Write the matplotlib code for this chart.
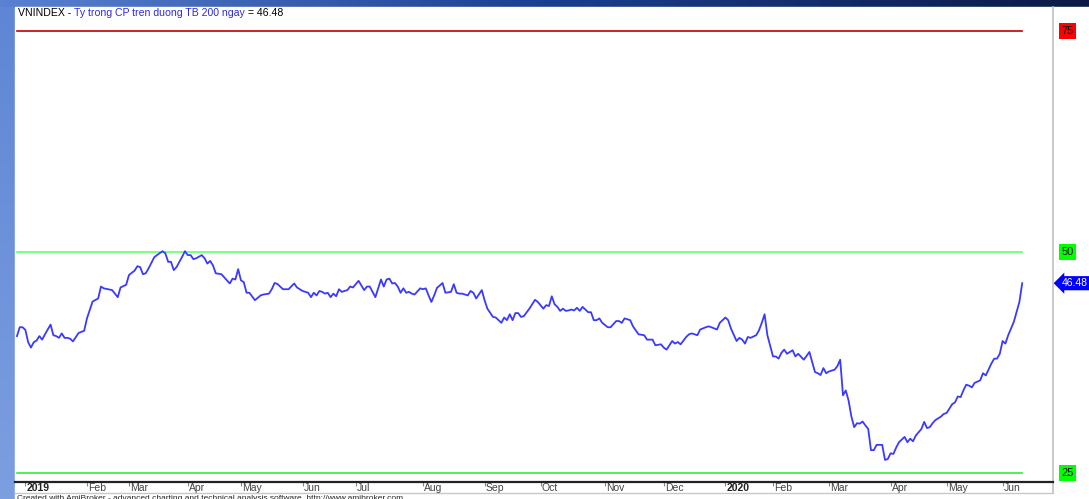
import numpy as np
import matplotlib
matplotlib.use('Agg')
import matplotlib.pyplot as plt
from matplotlib.patches import Rectangle

plt.rcParams['font.family'] = ['Liberation Sans', 'DejaVu Sans']

# trading-day index (0 = late Dec 2018) and % of stocks above MA200
day = [0, 1, 2, 3, 4, 5, 6, 7, 8, 9, 10, 12, 13, 14, 15, 16, 17, 18, 19, 20, 22, 24, 25, 27, 29,
       30, 31, 34, 36, 37, 39, 40, 42, 43, 44, 45, 46, 47, 49, 50, 52, 53, 54, 55, 56, 57, 58, 59,
       60, 61, 62, 63, 64, 66, 67, 68, 69, 70, 71, 73, 75, 76, 77, 78, 79, 80, 81, 82, 83, 85, 87,
       88, 90, 91, 92, 93, 95, 97, 99, 100, 102, 103, 104, 105, 106, 107, 108, 109, 110, 111, 112,
       113, 114, 115, 116, 118, 119, 120, 122, 124, 125, 126, 128, 129, 130, 131, 132, 133, 134,
       135, 136, 137, 138, 139, 140, 141, 142, 144, 145, 146, 147, 148, 149, 150, 152, 153, 155,
       156, 157, 158, 159, 161, 162, 163, 164, 166, 167, 168, 170, 171, 173, 174, 175, 176, 177,
       178, 179, 180, 181, 183, 185, 186, 188, 189, 190, 191, 192, 193, 194, 195, 196, 197, 198,
       199, 200, 201, 202, 204, 205, 206, 207, 208, 209, 211, 212, 214, 215, 216, 217, 219, 220,
       222, 224, 225, 227, 228, 230, 231, 232, 233, 234, 235, 236, 237, 239, 240, 241, 243, 244,
       246, 247, 248, 250, 251, 253, 254, 255, 257, 258, 259, 260, 261, 262, 264, 265, 266, 267,
       268, 270, 271, 272, 273, 274, 275, 277, 278, 279, 281, 283, 285, 286, 287, 288, 289, 290,
       292, 293, 294, 295, 296, 297, 298, 299, 300, 301, 302, 303, 304, 305, 306, 307, 309, 310,
       311, 312, 313, 314, 315, 317, 318, 319, 320, 321, 323, 324, 325, 326, 327, 328, 330, 331,
       332, 334, 335, 336, 337, 338, 339, 340, 341, 342, 344, 345, 346, 348, 349, 350, 351, 352,
       353, 354, 356, 358, 359]
ratio = [40.5, 41.5, 41.5, 41.2, 39.8, 39.2, 39.8, 40.0, 40.5, 40.1, 40.7, 41.8, 40.6, 40.5, 40.3,
         40.8, 40.3, 40.3, 40.2, 39.9, 40.85, 41.1, 42.5, 44.4, 44.75, 46.1, 45.9, 45.7, 44.9, 46.0,
         46.3, 47.4, 47.9, 48.4, 48.3, 47.5, 47.6, 48.15, 49.4, 49.66, 50.1, 49.85, 48.9, 48.9,
         47.96, 48.3, 48.9, 49.47, 50.1, 49.66, 49.66, 49.2, 49.3, 49.66, 49.3, 48.7, 49.0, 48.5,
         47.6, 47.5, 46.8, 46.45, 47.0, 46.9, 48.07, 46.8, 46.6, 45.4, 45.4, 44.56, 45.1, 45.2,
         45.3, 45.8, 46.5, 46.4, 45.8, 45.8, 46.45, 46.0, 45.6, 45.5, 45.4, 44.9, 45.4, 45.1, 45.6,
         45.5, 45.3, 45.4, 44.9, 45.3, 45.0, 45.8, 45.5, 45.7, 46.1, 46.0, 46.75, 45.7, 46.1, 46.1,
         44.9, 45.9, 46.9, 46.1, 46.9, 47.0, 46.45, 46.5, 46.1, 45.4, 45.9, 45.4, 45.5, 45.3, 45.2,
         45.9, 45.8, 45.9, 45.1, 44.36, 45.1, 45.95, 46.5, 45.4, 45.5, 46.37, 45.4, 45.3, 45.3,
         45.1, 45.6, 45.4, 44.75, 45.7, 44.56, 43.6, 42.67, 42.6, 42.0, 42.6, 42.3, 42.97, 42.3,
         43.1, 43.1, 42.67, 42.75, 43.6, 44.6, 44.36, 43.6, 44.0, 43.9, 45.0, 44.1, 43.8, 43.35,
         43.6, 43.35, 43.4, 43.5, 43.4, 43.7, 43.35, 43.8, 43.2, 43.2, 42.3, 42.3, 42.5, 42.0, 41.5,
         41.5, 42.2, 42.2, 42.0, 42.5, 42.3, 41.6, 40.7, 40.6, 40.1, 40.1, 39.46, 39.57, 39.2,
         38.97, 39.46, 39.94, 39.65, 39.83, 39.57, 40.4, 40.7, 40.8, 40.6, 41.24, 41.5, 41.6, 41.5,
         41.24, 42.0, 42.6, 42.3, 41.35, 39.94, 40.3, 40.1, 39.65, 40.4, 40.3, 40.6, 41.15, 42.0,
         42.97, 40.6, 38.2, 38.2, 37.95, 38.6, 38.97, 38.5, 38.9, 38.2, 38.5, 37.83, 38.7, 36.43,
         36.3, 36.1, 36.88, 36.3, 36.5, 36.7, 37.1, 37.83, 33.8, 34.35, 33.2, 31.4, 30.2, 30.65,
         30.6, 30.84, 30.4, 30.0, 27.6, 27.6, 28.2, 28.2, 26.5, 26.6, 27.25, 27.17, 27.9, 28.5,
         29.1, 28.5, 28.9, 28.6, 29.25, 30.0, 30.8, 30.1, 30.2, 30.65, 31.0, 31.4, 31.7, 31.8, 32.8,
         33.0, 33.67, 33.6, 34.35, 35.0, 34.9, 34.7, 35.2, 35.5, 36.3, 36.05, 37.4, 37.95, 37.95,
         38.5, 39.94, 39.65, 40.6, 42.1, 44.36, 46.48]

month_labels = ['2019', 'Feb', 'Mar', 'Apr', 'May', 'Jun', 'Jul', 'Aug', 'Sep', 'Oct', 'Nov', 'Dec',
                '2020', 'Feb', 'Mar', 'Apr', 'May', 'Jun']
month_day = [3, 25, 40, 61, 80, 102, 121, 145, 167, 187, 210, 231, 253, 270, 290, 312, 332, 352]

levels = [75, 50, 25]
level_colors = ['#c00000', '#66ff66', '#33ee33']
level_box = ['#ff0000', '#00ff00', '#00ff00']

W, H = 1089, 499
fig = plt.figure(figsize=(W / 100, H / 100), dpi=100)

# window frame: blue gradient strips
bg = fig.add_axes([0, 0, 1, 1])
bg.set_xlim(0, W)
bg.set_ylim(H, 0)
bg.axis('off')
top_grad = np.linspace(0, 1, 256).reshape(1, -1)
bg.imshow(top_grad, extent=(0, W, 7, 0), aspect='auto',
          cmap=matplotlib.colors.LinearSegmentedColormap.from_list('t', ['#5b82d2', '#1b3f8f', '#0b1a45']))
left_grad = np.linspace(0, 1, 256).reshape(-1, 1)
bg.imshow(left_grad, extent=(0, 15, H, 7), aspect='auto',
          cmap=matplotlib.colors.LinearSegmentedColormap.from_list('l', ['#5f86d4', '#7c9fe0']))
bg.add_patch(Rectangle((15, 7), W - 15, H - 7, color='white'))
bg.plot([15, 1053], [493, 493], color='#c8c8c8', lw=1)
bg.plot([1053, 1053], [7, 493], color='#c0c0c0', lw=1.2)
bg.text(17, 498, 'Created with AmiBroker - advanced charting and technical analysis software. http://www.amibroker.com',
        fontsize=6, color='#222222', va='center', ha='left')

ax = fig.add_axes([15 / W, 1 - 482 / H, (1053 - 15) / W, (482 - 8) / H])
ax.set_facecolor('none')
ax.set_xlim(-0.7, 370)
ax.set_ylim(24.0, 77.6)
for s in ['left', 'top', 'right']:
    ax.spines[s].set_visible(False)
ax.spines['bottom'].set_color('#222222')
ax.spines['bottom'].set_linewidth(1.6)
ax.set_yticks([])
ax.set_xticks(month_day)
ax.set_xticklabels([])
ax.tick_params(axis='x', direction='out', length=3, width=0.8, color='#888888')

for lv, c in zip(levels, level_colors):
    ax.plot([day[0], day[-1]], [lv, lv], color=c, lw=1.2)

ax.plot(day, ratio, color='#3a3aff', lw=1.3)

for lab, d in zip(month_labels, month_day):
    bold = lab.isdigit()
    ax.annotate(lab, xy=(d, 0), xycoords=('data', 'axes fraction'), xytext=(1, -4),
                textcoords='offset points', ha='left', va='center', fontsize=7.5,
                color='#222222' if bold else '#444444', fontweight='bold' if bold else 'normal')

# right-hand level boxes
for lv, bc in zip(levels, level_box):
    ax.annotate(str(lv), xy=(1, lv), xycoords=('axes fraction', 'data'), xytext=(6, 0),
                textcoords='offset points', ha='left', va='center', fontsize=8, color='#111111',
                bbox=dict(boxstyle='square,pad=0.25', fc=bc, ec='none'))
ax.annotate('%.2f' % ratio[-1], xy=(1, ratio[-1]), xycoords=('axes fraction', 'data'), xytext=(6, 0),
            textcoords='offset points', ha='left', va='center', fontsize=7.5, color='white',
            bbox=dict(boxstyle='larrow,pad=0.2', fc='#0000ff', ec='none'))

# title
t1 = bg.text(18, 13, 'VNINDEX - ', fontsize=7.6, color='black', va='center')
t2 = bg.annotate('Ty trong CP tren duong TB 200 ngay', xy=(1, 0), xycoords=t1, va='bottom',
                 ha='left', fontsize=7.6, color='#2b2bdd')
t3 = bg.annotate(' = %.2f' % ratio[-1], xy=(1, 0), xycoords=t2, va='bottom', ha='left',
                 fontsize=7.6, color='black')

fig.savefig('out.png', dpi=100)
